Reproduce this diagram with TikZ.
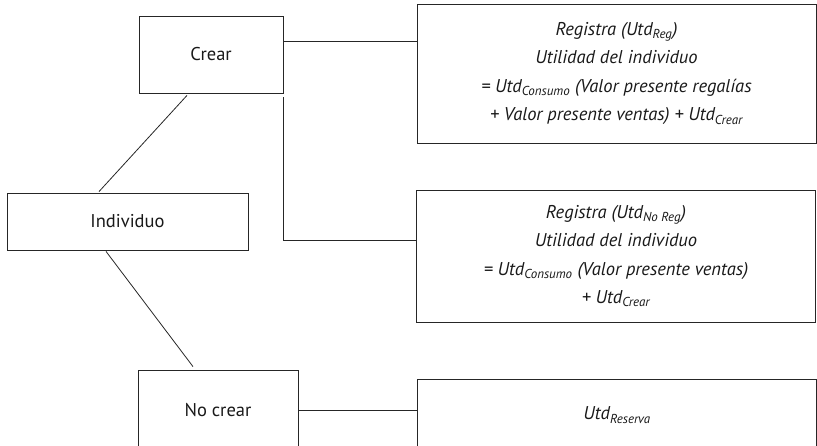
\documentclass[tikz,border=0pt]{standalone}
\usepackage{fontspec}
\setmainfont{PT Sans}
\colorlet{myline}{black!85}
\tikzstyle{choice}=[draw=myline,text=black!90,line width=0.8pt,inner sep=0pt,align=center,font=\fontsize{18.5}{28.5}\selectfont]
\tikzstyle{payoff}=[choice,font=\fontsize{18.5}{28.5}\selectfont\itshape,minimum width=399pt]
\tikzstyle{link}=[myline,line width=0.8pt]
\newcommand{\utd}[1]{Utd\textsubscript{#1}}

\begin{document}
\begin{tikzpicture}[x=1pt,y=-1pt]
  \clip (0,0) rectangle (817,446);
  % decision nodes
  \node[choice,minimum width=144pt,minimum height=77pt] (crear) at (211,54.5) {Crear};
  \node[choice,minimum width=241pt,minimum height=57pt] (indiv) at (127.5,221.5) {Individuo};
  \node[choice,minimum width=160pt,minimum height=80pt] (nocrear) at (218,410) {No crear};
  % outcomes
  \node[payoff,minimum height=139pt] (reg) at (616.5,73.5)
    {Registra (\utd{Reg})\\ Utilidad del individuo\\
     = \utd{Consumo} (Valor presente regalías\\ + Valor presente ventas) + \utd{Crear}};
  \node[payoff,minimum height=132pt] (noreg) at (616,256)
    {Registra (\utd{No Reg})\\ Utilidad del individuo\\
     = \utd{Consumo} (Valor presente ventas)\\ + \utd{Crear}};
  \node[payoff,minimum height=72pt] (reserva) at (617,415) {\utd{Reserva}};
  % branches
  \draw[link] ([xshift=-24pt,yshift=-2pt]crear.south) -- ([xshift=-28.5pt,yshift=1pt]indiv.north);
  \draw[link] ([xshift=-21.5pt,yshift=-1pt]indiv.south) -- ([xshift=-25pt,yshift=3pt]nocrear.north);
  \draw[link] ([yshift=13pt]crear.east) coordinate (c1) -- (c1 -| reg.west);
  \draw[link] ([yshift=-4pt]crear.south east) |- ([yshift=16pt]noreg.west);
  \draw[link] (nocrear.east) -- (nocrear.east -| reserva.west);
\end{tikzpicture}
\end{document}
